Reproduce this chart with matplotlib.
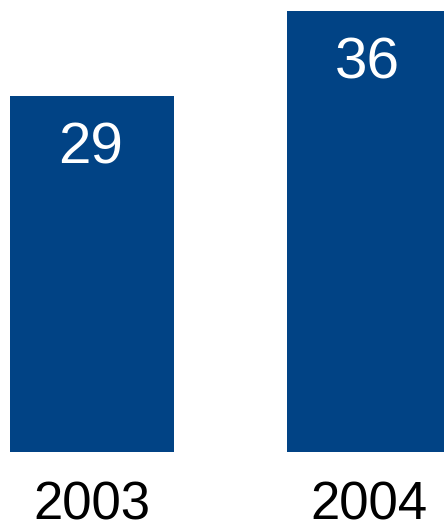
import matplotlib.pyplot as plt

years = ['2003', '2004']
values = [29, 36]

plt.rcParams['font.family'] = ['Liberation Sans', 'DejaVu Sans']

fig = plt.figure(figsize=(4.44, 5.24), dpi=100)
ax = fig.add_axes([0, 1 - 451.5 / 524, 1, 451.5 / 524])

pos = [0, 1]
ax.bar(pos, values, width=0.592, color='#014385')
ax.set_xlim(-0.332, 1.271)
ax.set_ylim(0, 36.86)

for p, v in zip(pos, values):
    ax.annotate(str(v), (p, v), xytext=(-1, -18.5), textcoords='offset points',
                ha='center', va='top', color='white', fontsize=42)

ax.set_xticks(pos)
ax.set_xticklabels(years, fontsize=38)
ax.tick_params(axis='x', length=0, pad=21)
ax.set_yticks([])
for s in ax.spines.values():
    s.set_visible(False)

plt.savefig('out.png', dpi=100)
